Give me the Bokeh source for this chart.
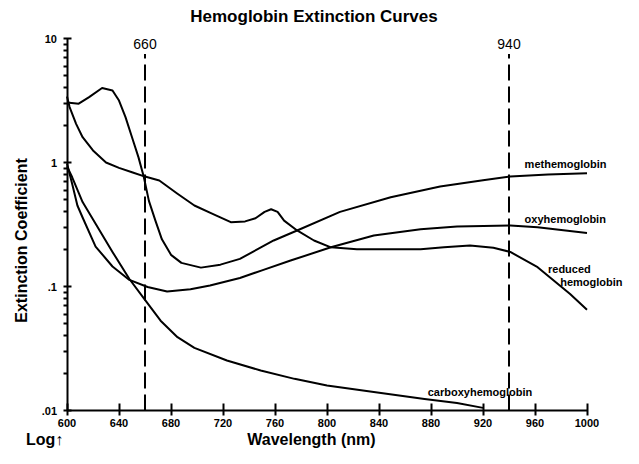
from math import pi
from bokeh.plotting import figure
from bokeh.models import Range1d, FixedTicker, Label
from bokeh.embed import file_html
from bokeh.resources import INLINE

# ---------------- data ----------------
methemo_nm = [600, 609, 617, 627, 635, 640, 645, 650, 655, 659, 663, 668, 673, 680, 688,
              703, 718, 733, 759, 777, 810, 849, 887, 920, 941, 970, 1000]
methemo = [3.05, 2.98, 3.37, 3.99, 3.81, 3.16, 2.32, 1.6, 1.1, 0.77, 0.49, 0.34, 0.24, 0.18, 0.155,
           0.142, 0.15, 0.167, 0.235, 0.283, 0.40, 0.525, 0.64, 0.72, 0.77, 0.80, 0.82]

reduced_nm = [600, 602, 607, 612, 620, 630, 640, 650, 660, 671, 685, 698, 712, 726, 737, 745,
              752, 757, 762, 767, 777, 790, 803, 823, 849, 872, 890, 910, 928, 941, 962, 987, 1000]
reduced = [3.4, 2.8, 2.05, 1.6, 1.25, 1.0, 0.905, 0.835, 0.77, 0.716, 0.56, 0.45, 0.385, 0.33, 0.335, 0.355,
           0.40, 0.42, 0.40, 0.34, 0.283, 0.235, 0.207, 0.20, 0.20, 0.20, 0.207, 0.214, 0.205, 0.19, 0.143, 0.087, 0.065]

oxy_nm = [600, 604, 608, 612, 622, 635, 648, 662, 677, 695, 710, 733, 750, 772, 803, 836, 872, 900, 941, 962, 1000]
oxy = [0.98, 0.67, 0.45, 0.36, 0.21, 0.145, 0.113, 0.099, 0.091, 0.095, 0.102, 0.117, 0.135, 0.162,
       0.207, 0.258, 0.29, 0.305, 0.31, 0.30, 0.27]

carboxy_nm = [600, 604, 612, 622, 635, 648, 660, 672, 685, 698, 723, 749, 775, 800, 836, 875, 900, 920]
carboxy = [0.93, 0.76, 0.48, 0.32, 0.19, 0.115, 0.078, 0.053, 0.039, 0.032, 0.0253, 0.021, 0.018,
           0.0159, 0.0141, 0.0124, 0.0115, 0.0105]

marker_nm = [660, 940]
marker_labels = ["660", "940"]

x_ticks = [600, 640, 680, 720, 760, 800, 840, 880, 920, 960, 1000]
y_ticks = [0.01, 0.1, 1, 10]
y_tick_labels = [".01", ".1", "1", "10"]
y_minor = [m * d for d in (0.01, 0.1, 1) for m in range(2, 10)]

FONT = "Liberation Sans"

W, H = 623, 448
LEFT, TOP = 66.5, 38          # pixel position of the (600 nm, 10) corner inside the figure
PX_PER_NM = 1.3
PX_PER_DECADE = 124.0

x_lo = 600 - LEFT / PX_PER_NM
x_hi = 600 + (W - LEFT) / PX_PER_NM
y_hi = 10 ** (1 + TOP / PX_PER_DECADE)
y_lo = 10 ** (1 - (H - TOP) / PX_PER_DECADE)

p = figure(width=W, height=H, y_axis_type="log",
           x_range=Range1d(x_lo, x_hi), y_range=Range1d(y_lo, y_hi),
           output_backend="svg", toolbar_location=None,
           min_border=0, min_border_left=0, min_border_right=0,
           min_border_top=0, min_border_bottom=0)
p.outline_line_color = None
p.xgrid.visible = False
p.ygrid.visible = False

# curves
for xs, ys in [(methemo_nm, methemo), (reduced_nm, reduced), (oxy_nm, oxy), (carboxy_nm, carboxy)]:
    p.line(xs, ys, line_color="black", line_width=2, line_join="round")

# dashed wavelength markers
p.segment(x0=marker_nm, y0=[0.01] * len(marker_nm), x1=marker_nm, y1=[7.5] * len(marker_nm),
          line_color="black", line_width=2, line_dash="16 6")

# axes, pinned at 600 nm / 0.01
xa = p.xaxis[0]
xa.fixed_location = 0.01
xa.bounds = (600, 1000)
xa.ticker = FixedTicker(ticks=x_ticks, minor_ticks=[])
xa.axis_line_width = 2
xa.major_tick_line_width = 2
xa.major_tick_in = 7
xa.major_tick_out = 5
xa.major_label_standoff = 3
xa.major_label_text_font = FONT
xa.major_label_text_font_style = "bold"
xa.major_label_text_font_size = "11px"
xa.major_label_text_color = "black"

ya = p.yaxis[0]
ya.fixed_location = 600
ya.bounds = (0.01, 10)
ya.ticker = FixedTicker(ticks=y_ticks, minor_ticks=y_minor)
ya.major_label_overrides = {t: s for t, s in zip(y_ticks, y_tick_labels)}
ya.axis_line_width = 2
ya.major_tick_line_width = 2
ya.major_tick_in = 4
ya.major_tick_out = 4
ya.minor_tick_in = 0
ya.minor_tick_out = 4
ya.minor_tick_line_width = 2
ya.minor_tick_line_color = "black"
ya.major_label_standoff = 6
ya.major_label_text_font = FONT
ya.major_label_text_font_style = "bold"
ya.major_label_text_font_size = "11px"
ya.major_label_text_color = "black"


def add_label(x, y, text, size, bold=True, align="left", xo=0, yo=0, angle=0):
    p.add_layout(Label(x=x, y=y, text=text, x_offset=xo, y_offset=yo, angle=angle,
                       text_font=FONT, text_font_size=size,
                       text_font_style="bold" if bold else "normal",
                       text_align=align, text_baseline="middle", text_color="black"))


# title and axis titles
add_label(790, 10, "Hemoglobin Extinction Curves", "17px", align="center", yo=22)
add_label(788, 0.01, "Wavelength (nm)", "16px", align="center", yo=-29)
add_label(600, 0.01, "Log\u2191", "16px", align="left", xo=-41, yo=-29)
add_label(600, 0.235, "Extinction Coefficient", "16px", align="center", xo=-46, angle=pi / 2)

# marker labels
for xm, lab in zip(marker_nm, marker_labels):
    add_label(xm, 10, lab, "14px", bold=False, align="center", yo=-5)

# curve labels
add_label(952, 0.98, "methemoglobin", "11px")
add_label(952, 0.347, "oxyhemoglobin", "11px")
add_label(970, 0.139, "reduced", "11px")
add_label(984, 0.108, "hemoglobin", "11px", xo=-6)
add_label(877.5, 0.0141, "carboxyhemoglobin", "11px")

open("out.html", "w").write(file_html(p, INLINE))
